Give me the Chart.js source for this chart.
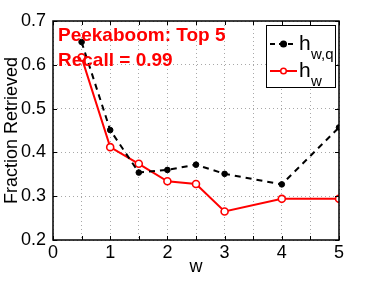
<!DOCTYPE html>
<html>
<head>
<meta charset="utf-8">
<script src="https://cdn.jsdelivr.net/npm/chart.js@4"></script>
<style>
  body { margin: 0; background: #fff; }
  #wrap { width: 374px; height: 281px; }
</style>
</head>
<body>
<div id="wrap"><canvas id="c" width="374" height="281"></canvas></div>
<script>
// data
const wValues = [0.5, 1, 1.5, 2, 2.5, 3, 4, 5];
const hwqValues = [0.652, 0.451, 0.354, 0.360, 0.372, 0.351, 0.327, 0.457];
const hwValues = [0.617, 0.412, 0.374, 0.334, 0.328, 0.265, 0.294, 0.294];
const noteLines = ['Peekaboom: Top 5', 'Recall = 0.99'];

const FONT = '"Liberation Sans", Arial, Helvetica, sans-serif';

const toPoints = (xs, ys) => xs.map((x, i) => ({ x: x, y: ys[i] }));

// box, inner ticks, note text and legend (matlab style)
const matlabPlugin = {
  id: 'matlab',
  afterDraw(chart) {
    const { ctx, chartArea: a, scales } = chart;
    ctx.save();

    // inner tick marks
    ctx.strokeStyle = '#000';
    ctx.lineWidth = 1;
    ctx.beginPath();
    scales.x.ticks.forEach(t => {
      const px = Math.round(scales.x.getPixelForValue(t.value)) + 0.5;
      ctx.moveTo(px, a.bottom); ctx.lineTo(px, a.bottom - 4);
      ctx.moveTo(px, a.top); ctx.lineTo(px, a.top + 4);
    });
    scales.y.ticks.forEach(t => {
      const py = Math.round(scales.y.getPixelForValue(t.value)) + 0.5;
      ctx.moveTo(a.left, py); ctx.lineTo(a.left + 4, py);
      ctx.moveTo(a.right, py); ctx.lineTo(a.right - 4, py);
    });
    ctx.stroke();

    // axes box
    ctx.lineWidth = 1.5;
    ctx.strokeRect(a.left, a.top, a.right - a.left, a.bottom - a.top);

    // red note
    ctx.fillStyle = '#ff0000';
    ctx.font = 'bold 19px ' + FONT;
    ctx.textBaseline = 'alphabetic';
    ctx.textAlign = 'left';
    ctx.fillText(noteLines[0], a.left + 5, a.top + 20);
    ctx.fillText(noteLines[1], a.left + 5, a.top + 45);

    // legend
    const lx = a.right - 73, ly = a.top + 4, lw = 69, lh = 62;
    ctx.fillStyle = '#fff';
    ctx.fillRect(lx, ly, lw, lh);
    ctx.strokeStyle = '#000';
    ctx.lineWidth = 1;
    ctx.strokeRect(lx + 0.5, ly + 0.5, lw, lh);

    const rows = [
      { color: '#000', dash: [5, 4], fill: '#000', sub: 'w,q', y: ly + 19 },
      { color: '#ff0000', dash: [], fill: '#fff', sub: 'w', y: ly + 46 }
    ];
    rows.forEach(r => {
      ctx.strokeStyle = r.color;
      ctx.lineWidth = 2;
      ctx.setLineDash(r.dash);
      ctx.beginPath();
      ctx.moveTo(lx + 4, r.y);
      ctx.lineTo(lx + 31, r.y);
      ctx.stroke();
      ctx.setLineDash([]);
      ctx.beginPath();
      ctx.arc(lx + 17.5, r.y, 2.8, 0, Math.PI * 2);
      ctx.fillStyle = r.fill;
      ctx.fill();
      ctx.lineWidth = 1.5;
      ctx.stroke();
      ctx.fillStyle = '#000';
      ctx.font = '21px ' + FONT;
      ctx.fillText('h', lx + 33, r.y + 6);
      ctx.font = '15px ' + FONT;
      ctx.fillText(r.sub, lx + 45, r.y + 15);
    });

    ctx.restore();
  }
};

new Chart(document.getElementById('c'), {
  type: 'scatter',
  data: {
    datasets: [
      {
        label: 'h_w,q',
        data: toPoints(wValues, hwqValues),
        showLine: true,
        borderColor: '#000',
        borderWidth: 2,
        borderDash: [6, 5],
        pointRadius: 2.8,
        pointBackgroundColor: '#000',
        pointBorderColor: '#000',
        pointBorderWidth: 1
      },
      {
        label: 'h_w',
        data: toPoints(wValues, hwValues),
        showLine: true,
        borderColor: '#ff0000',
        borderWidth: 2,
        pointRadius: 3.5,
        pointBackgroundColor: '#fff',
        pointBorderColor: '#ff0000',
        pointBorderWidth: 1.6
      }
    ]
  },
  options: {
    responsive: false,
    animation: false,
    layout: { padding: { top: 21, right: 35, left: 0, bottom: 0 } },
    plugins: {
      legend: { display: false },
      tooltip: { enabled: false }
    },
    scales: {
      x: {
        type: 'linear',
        min: 0,
        max: 5,
        afterFit: s => { s.height = 41; },
        ticks: {
          stepSize: 0.5,
          padding: 2,
          color: '#000',
          font: { family: FONT, size: 18 },
          maxRotation: 0,
          callback: v => Number.isInteger(v) ? String(v) : ''
        },
        grid: {
          color: '#a8a8a8',
          lineWidth: 1,
          drawTicks: false
        },
        border: { display: false, dash: [1, 3] },
        title: {
          display: true,
          text: 'w',
          color: '#000',
          font: { family: FONT, size: 18 },
          padding: { top: 0, bottom: 3 }
        }
      },
      y: {
        type: 'linear',
        min: 0.2,
        max: 0.7,
        afterFit: s => { s.width = 53; },
        ticks: {
          stepSize: 0.1,
          padding: 7,
          color: '#000',
          font: { family: FONT, size: 18 },
          callback: v => v.toFixed(1)
        },
        grid: {
          color: '#a8a8a8',
          lineWidth: 1,
          drawTicks: false
        },
        border: { display: false, dash: [1, 3] },
        title: {
          display: true,
          text: 'Fraction Retrieved',
          color: '#000',
          font: { family: FONT, size: 18 },
          padding: { top: 1, bottom: 0 }
        }
      }
    }
  },
  plugins: [matlabPlugin]
});
</script>
</body>
</html>
